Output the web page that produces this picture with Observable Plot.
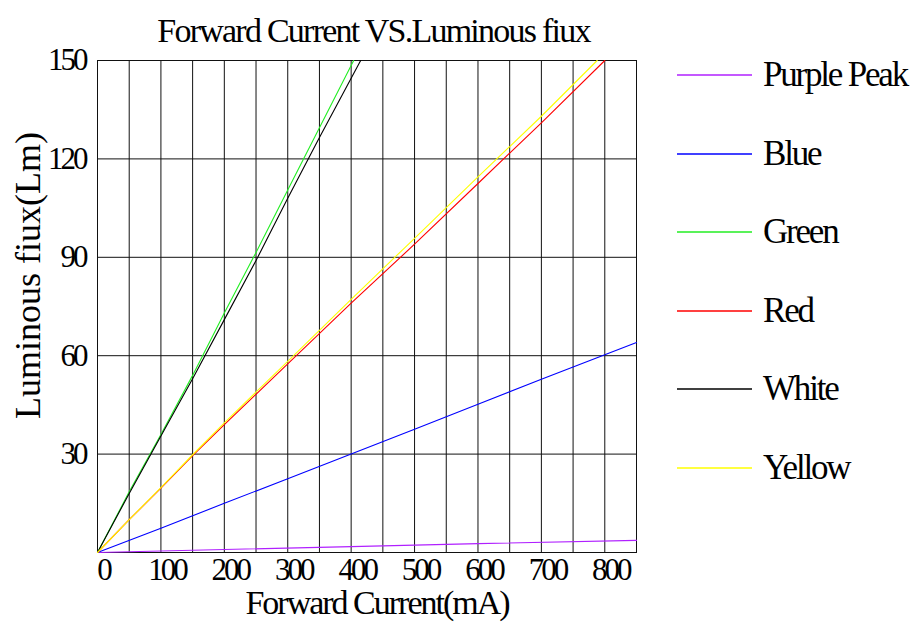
<!DOCTYPE html>
<html>
<head>
<meta charset="utf-8">
<script src="https://cdn.jsdelivr.net/npm/d3@7"></script>
<script src="https://cdn.jsdelivr.net/npm/@observablehq/plot@0.6"></script>
<style>
  html, body { margin: 0; padding: 0; background: #fff; }
  #wrap { position: relative; width: 912px; height: 624px; overflow: hidden; }
  #wrap svg { position: absolute; left: 0; top: 0; }
  #wrap svg text { font-family: "Liberation Serif", Tinos, "Nimbus Roman", "Times New Roman", Times, "DejaVu Serif", serif !important; }
  #legend { pointer-events: none; }
</style>
</head>
<body>
<div id="wrap"></div>
<script>
// ---- Data ----
const seriesNames = ["Purple Peak", "Blue", "Green", "Red", "White", "Yellow"];
const seriesColors = ["#b020ff", "#0000ff", "#22ee22", "#ff0000", "#000000", "#ffff00"];

// [forward current (mA), luminous flux (Lm)]
const purplePeak = [[0,0],[200,0.9],[400,1.8],[600,2.7],[850,3.7]];
const blue   = [[0,0],[100,7.4],[200,15],[300,22.5],[400,30],[500,37.6],[600,45.2],[700,52.8],[850,64]];
const green  = [[0,0],[50,18.5],[100,36],[150,54],[200,73],[250,91.5],[300,110.5],[350,129.5],[404,150]];
const red    = [[0,0],[50,10],[100,19.6],[150,29.5],[200,39],[300,57.5],[400,76],[500,94],[600,112.5],[700,131],[800,150]];
const white  = [[0,0],[50,18],[100,35.5],[150,53],[200,71],[250,89],[300,108],[350,126.5],[415,150]];
const yellow = [[0,0],[50,10],[100,19.8],[150,29.8],[200,39.5],[300,58.3],[400,77.2],[500,95.8],[600,114.5],[700,133],[788,150]];

const xGridValues = [0,50,100,150,200,250,300,350,400,450,500,550,600,650,700,750,800,850];
const xTickValues = [0,100,200,300,400,500,600,700,800];
const yTickValues = [30,60,90,120,150];

const titleText = "Forward Current VS.Luminous fiux";
const xLabelText = "Forward Current(mA)";
const yLabelText = "Luminous fiux(Lm)";

// ---- Build table ----
const seriesData = [purplePeak, blue, green, red, white, yellow];
const rows = [];
seriesData.forEach((pts, i) => {
  pts.forEach(([c, f]) => rows.push({series: seriesNames[i], current: c, flux: f}));
});

const chart = Plot.plot({
  width: 912,
  height: 624,
  marginLeft: 97,
  marginRight: 276,
  marginTop: 60,
  marginBottom: 72,
  style: {background: "white", color: "black", overflow: "visible"},
  x: {domain: [0, 850]},
  y: {domain: [0, 150]},
  color: {domain: seriesNames, range: seriesColors},
  marks: [
    Plot.gridX(xGridValues, {stroke: "#111", strokeOpacity: 1, strokeWidth: 1}),
    Plot.gridY(yTickValues, {stroke: "#111", strokeOpacity: 1, strokeWidth: 1}),
    Plot.frame({stroke: "#111", strokeWidth: 1}),
    Plot.line(rows, {x: "current", y: "flux", z: "series", stroke: "series", strokeWidth: 1.1}),
    Plot.axisX(xTickValues, {tickSize: 0, tickPadding: 5, fontSize: 31, dx: 6, label: null}),
    Plot.axisY(yTickValues, {tickSize: 0, tickPadding: 12, fontSize: 31, label: null}),
    Plot.text([titleText], {frameAnchor: "top", dx: 6.5, dy: -29, fontSize: 34, lineAnchor: "middle", textAnchor: "middle"}),
    Plot.text([xLabelText], {frameAnchor: "bottom", dx: 10, dy: 51, fontSize: 34, lineAnchor: "middle", textAnchor: "middle"}),
    Plot.text([yLabelText], {frameAnchor: "left", dx: -69, dy: -31, rotate: -90, fontSize: 36, lineAnchor: "middle", textAnchor: "middle"})
  ]
});

document.getElementById("wrap").appendChild(chart);

// letter spacing tweaks (condensed look of the reference)
d3.select(chart).selectAll('g[aria-label="x-axis tick label"] text, g[aria-label="y-axis tick label"] text')
  .style("letter-spacing", "-3px");
d3.select(chart).selectAll("text").each(function() {
  const t = this.textContent;
  if (t === titleText) this.style.letterSpacing = "-1.75px";
  if (t === xLabelText) this.style.letterSpacing = "-2px";
});

// ---- Legend (right side) ----
const legendTop = 75, legendStep = 78.6;
const leg = d3.select("#wrap").append("svg")
  .attr("id", "legend")
  .attr("width", 912).attr("height", 624);
seriesNames.forEach((name, i) => {
  const y = Math.round(legendTop + i * legendStep);
  leg.append("line")
    .attr("x1", 677).attr("x2", 752)
    .attr("y1", y).attr("y2", y)
    .attr("stroke", seriesColors[i]).attr("stroke-width", 1.6);
  leg.append("text")
    .attr("x", 763).attr("y", y + 11)
    .attr("font-size", 35)
    .style("letter-spacing", "-2.2px")
    .text(name);
});
</script>
</body>
</html>
